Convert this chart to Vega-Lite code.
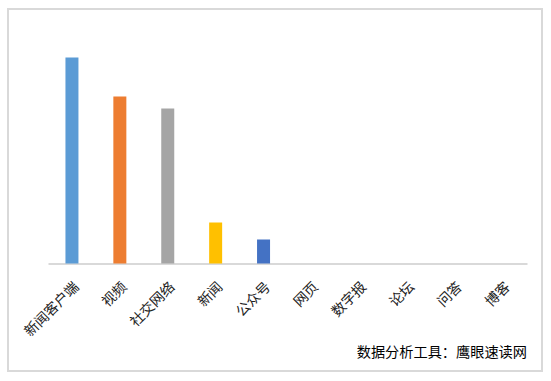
{
  "$schema": "https://vega.github.io/schema/vega-lite/v6.json",
  "width": 534,
  "height": 362,
  "autosize": {"type": "none"},
  "padding": {"left": 8, "top": 9, "right": 9, "bottom": 10},
  "background": "white",
  "config": {
    "view": {"stroke": "#d9d9d9", "strokeWidth": 2},
    "font": "Noto Sans CJK SC"
  },
  "title": {
    "text": "数据分析工具：鹰眼速读网",
    "orient": "bottom",
    "anchor": "end",
    "frame": "group",
    "offset": -25,
    "dx": -15,
    "fontSize": 14.2,
    "fontWeight": "normal",
    "color": "#000000",
    "font": "Noto Sans CJK SC"
  },
  "data": {
    "values": [
      {"category": "新闻客户端", "value": 206},
      {"category": "视频", "value": 167},
      {"category": "社交网络", "value": 155},
      {"category": "新闻", "value": 41},
      {"category": "公众号", "value": 24},
      {"category": "网页", "value": 0},
      {"category": "数字报", "value": 0},
      {"category": "论坛", "value": 0},
      {"category": "问答", "value": 0},
      {"category": "博客", "value": 0}
    ]
  },
  "mark": {"type": "bar", "size": 13},
  "encoding": {
    "x": {
      "field": "category",
      "type": "nominal",
      "sort": null,
      "scale": {"range": [40, 519], "paddingInner": 0, "paddingOuter": 0},
      "axis": {
        "title": null,
        "offset": -107.5,
        "domainColor": "#d9d9d9",
        "domainWidth": 2,
        "ticks": false,
        "labelAngle": -45,
        "labelPadding": 16,
        "labelFontSize": 14,
        "labelColor": "#222222",
        "labelFont": "Noto Sans CJK SC",
        "grid": false
      }
    },
    "y": {
      "field": "value",
      "type": "quantitative",
      "scale": {"domain": [-107.5, 254.5], "nice": false, "zero": true},
      "axis": null
    },
    "color": {
      "field": "category",
      "type": "nominal",
      "sort": null,
      "scale": {"range": ["#5B9BD5", "#ED7D31", "#A5A5A5", "#FFC000", "#4472C4", "#70AD47", "#264478", "#9E480E", "#636363", "#997300"]},
      "legend": null
    }
  }
}
